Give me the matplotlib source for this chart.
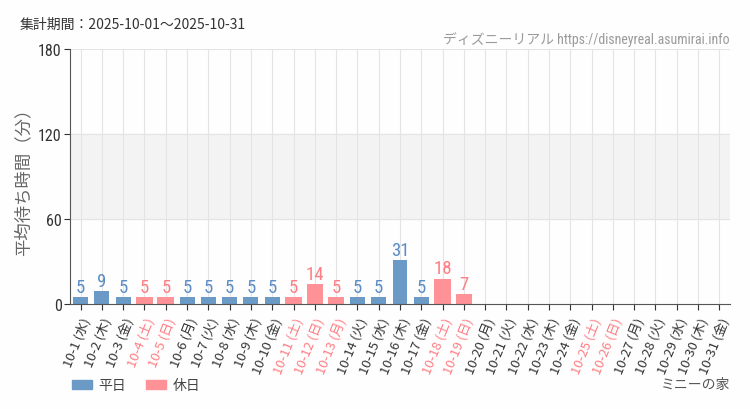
import numpy as np
import matplotlib
matplotlib.use("Agg")
import matplotlib.pyplot as plt
from matplotlib.patches import Patch

plt.rcParams['font.family'] = ['Noto Sans CJK JP', 'DejaVu Sans']

days = list(range(1, 32))
weekdays = ["水", "木", "金", "土", "日", "月", "火", "水", "木", "金",
            "土", "日", "月", "火", "水", "木", "金", "土", "日", "月",
            "火", "水", "木", "金", "土", "日", "月", "火", "水", "木", "金"]
holidays = [4, 5, 11, 12, 13, 18, 19, 25, 26]
waits = [5, 9, 5, 5, 5, 5, 5, 5, 5, 5, 5, 14, 5, 5, 5, 31, 5, 18, 7]

blue = "#6b9ac6"
pink = "#ff9297"
blue_txt = "#5b8cc4"
pink_txt = "#ff7d84"
num_font = ['Roboto Condensed', 'DejaVu Sans']

fig = plt.figure(figsize=(7.5, 4.1), dpi=100, facecolor="#fdfefd")
ax = fig.add_axes([0.0933, 0.256, 0.88, 0.622])
ax.set_facecolor("#fdfefd")

x = np.arange(len(days))
ax.axhspan(60, 120, color="#f3f3f3", zorder=0)
for xi in x:
    ax.axvline(xi, color="#e4e4e4", lw=0.8, zorder=0.5)
for yv in [60, 120, 180]:
    ax.axhline(yv, color="#e4e4e4", lw=0.8, zorder=0.5)

for i, v in enumerate(waits):
    hol = days[i] in holidays
    c = pink if hol else blue
    w = 0.78 if hol else 0.7
    ax.bar(x[i], v, width=w, color=c, zorder=2)
    ax.text(x[i], v + 1.0, str(v), ha="center", va="bottom", fontsize=13.5,
            color=pink_txt if hol else blue_txt, family=num_font, zorder=3)

ax.set_xlim(-0.5, len(days) - 0.5)
ax.set_ylim(0, 180)
ax.set_yticks([0, 60, 120, 180])
ax.set_yticklabels(["0", "60", "120", "180"], family=num_font, fontsize=11.5, color="#333333")
ax.set_xticks(x)
labels = ["10-%d (%s)" % (d, wd) for d, wd in zip(days, weekdays)]
ax.set_xticklabels(labels, rotation=68, ha="right", rotation_mode="anchor", fontsize=9.5)
for lab, d in zip(ax.get_xticklabels(), days):
    lab.set_color(pink_txt if d in holidays else "#333333")
ax.tick_params(axis="x", length=4, color="#333333", pad=4)
ax.tick_params(axis="y", length=4, color="#333333", pad=2)
for s in ["top", "right"]:
    ax.spines[s].set_visible(False)
for s in ["left", "bottom"]:
    ax.spines[s].set_color("#555555")

ax.set_ylabel("平均待ち時間（分）", fontsize=12.5, color="#666666", labelpad=4)

fig.text(20 / 750, 1 - 25 / 410, "集計期間：2025-10-01～2025-10-31", fontsize=10,
         color="#333333", va="center", ha="left")
fig.text(730 / 750, 1 - 40 / 410, "ディズニーリアル https://disneyreal.asumirai.info",
         fontsize=10, color="#9a9a9a", va="center", ha="right",
         family=['Roboto Condensed', 'Noto Sans CJK JP'])
fig.text(730 / 750, 1 - 385 / 410, "ミニーの家", fontsize=10, color="#555555",
         va="center", ha="right")

handles = [Patch(color=blue, label="平日"), Patch(color=pink, label="休日")]
fig.legend(handles=handles, loc="center left", bbox_to_anchor=(59 / 750, 1 - 386 / 410),
           ncol=2, frameon=False, fontsize=10, handlelength=1.45, handleheight=0.6,
           handletextpad=0.5, columnspacing=1.4, labelcolor="#444444")

fig.savefig("out.png", dpi=100, facecolor=fig.get_facecolor())
